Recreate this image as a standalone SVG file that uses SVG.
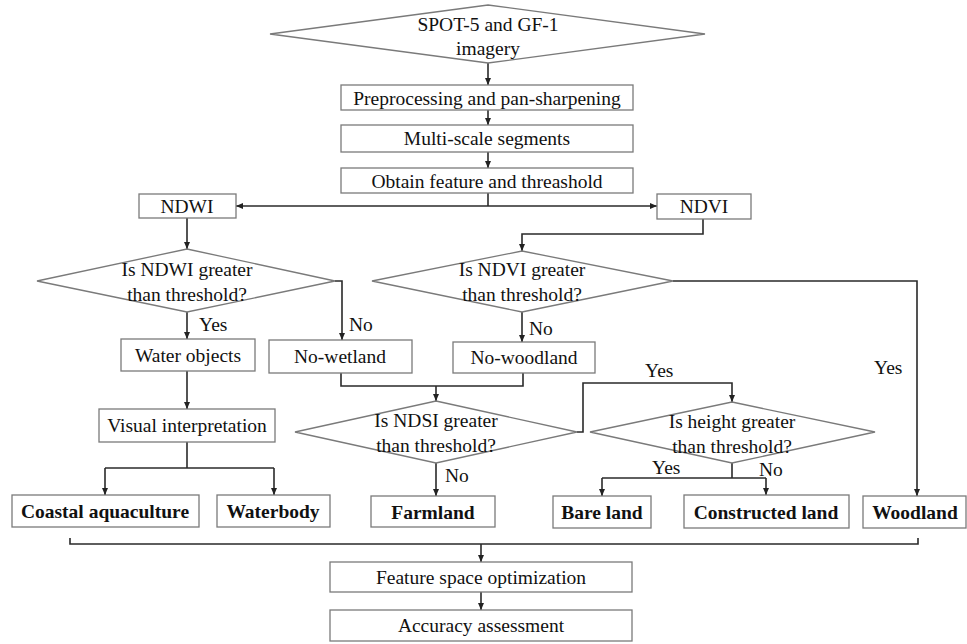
<svg xmlns="http://www.w3.org/2000/svg" width="967" height="644" viewBox="0 0 967 644">
<defs>
<style>
.box{fill:#fff;stroke:#7a7a7a;stroke-width:1.3}
.dia{fill:#fff;stroke:#7a7a7a;stroke-width:1.3}
text{font-family:'Liberation Serif','Times New Roman','DejaVu Serif',serif;font-size:19.5px;fill:#111}
.t{text-anchor:middle}
.b{font-weight:bold}
.c{fill:none;stroke:#2a2a2a;stroke-width:1.6}
</style>
<marker id="ah" markerWidth="8" markerHeight="8" refX="7" refY="4" orient="auto" markerUnits="userSpaceOnUse"><path d="M0,1 L7,4 L0,7 Z" fill="#222"/></marker>
</defs>
<rect width="967" height="644" fill="#fff"/>
<g id="connectors">
<path class="c" d="M488,63 V85" marker-end="url(#ah)"/>
<path class="c" d="M488,110 V125" marker-end="url(#ah)"/>
<path class="c" d="M488,152 V168" marker-end="url(#ah)"/>
<path class="c" d="M488,193 V206"/>
<path class="c" d="M488,206 H236" marker-end="url(#ah)"/>
<path class="c" d="M488,206 H657" marker-end="url(#ah)"/>
<path class="c" d="M187,218 V249" marker-end="url(#ah)"/>
<path class="c" d="M187,312 V339" marker-end="url(#ah)"/>
<path class="c" d="M335,281 H342 V340" marker-end="url(#ah)"/>
<path class="c" d="M703,219 V234 H522 V251" marker-end="url(#ah)"/>
<path class="c" d="M673,281 H917 V496" marker-end="url(#ah)"/>
<path class="c" d="M522,312 V342" marker-end="url(#ah)"/>
<path class="c" d="M341,373 V386 H523 V373"/>
<path class="c" d="M436,386 V401" marker-end="url(#ah)"/>
<path class="c" d="M187,371 V409" marker-end="url(#ah)"/>
<path class="c" d="M187,442 V468"/>
<path class="c" d="M105,468 H274"/>
<path class="c" d="M105,468 V495" marker-end="url(#ah)"/>
<path class="c" d="M274,468 V495" marker-end="url(#ah)"/>
<path class="c" d="M436,463 V496" marker-end="url(#ah)"/>
<path class="c" d="M577,432 H583 V383 H732 V402" marker-end="url(#ah)"/>
<path class="c" d="M732,463 V478"/>
<path class="c" d="M602,478 H766"/>
<path class="c" d="M602,478 V496" marker-end="url(#ah)"/>
<path class="c" d="M766,478 V495" marker-end="url(#ah)"/>
<path class="c" d="M70,538 V544 H918 V538"/>
<path class="c" d="M481,544 V562" marker-end="url(#ah)"/>
<path class="c" d="M481,592 V610" marker-end="url(#ah)"/>
<text x="199" y="331">Yes</text>
<text x="349" y="331">No</text>
<text x="529" y="335">No</text>
<text x="874" y="374">Yes</text>
<text x="645" y="377">Yes</text>
<text x="652" y="474">Yes</text>
<text x="759" y="476">No</text>
<text x="445" y="482">No</text>
</g>
<g id="n-input">
<polygon class="dia" points="488,5 705,34 488,63 270,34"/>
<text class="t" x="488" y="31">SPOT-5 and GF-1</text>
<text class="t" x="488" y="55">imagery</text>
</g>
<g id="n-preproc"><rect class="box" x="341" y="85" width="292" height="25"/><text class="t" x="487" y="105">Preprocessing and pan-sharpening</text></g>
<g id="n-segments"><rect class="box" x="341" y="125" width="292" height="27"/><text class="t" x="487" y="145">Multi-scale segments</text></g>
<g id="n-feature"><rect class="box" x="341" y="168" width="292" height="25"/><text class="t" x="487" y="188">Obtain feature and threashold</text></g>
<g id="n-ndwi"><rect class="box" x="139" y="194" width="97" height="24"/><text class="t" x="187" y="213">NDWI</text></g>
<g id="n-ndvi"><rect class="box" x="657" y="194" width="94" height="25"/><text class="t" x="704" y="213">NDVI</text></g>
<g id="n-ndwi-q">
<polygon class="dia" points="187,249 335,281 187,312 37,281"/>
<text class="t" x="187" y="276">Is NDWI greater</text>
<text class="t" x="187" y="301">than threshold?</text>
</g>
<g id="n-ndvi-q">
<polygon class="dia" points="522,251 673,281 522,312 372,281"/>
<text class="t" x="522" y="276">Is NDVI greater</text>
<text class="t" x="522" y="301">than threshold?</text>
</g>
<g id="n-water"><rect class="box" x="121" y="339" width="134" height="32"/><text class="t" x="188" y="362">Water objects</text></g>
<g id="n-nowetland"><rect class="box" x="269" y="340" width="143" height="33"/><text class="t" x="340" y="363">No-wetland</text></g>
<g id="n-nowoodland"><rect class="box" x="453" y="342" width="142" height="31"/><text class="t" x="524" y="364">No-woodland</text></g>
<g id="n-visual"><rect class="box" x="99" y="409" width="176" height="33"/><text class="t" x="187" y="432">Visual interpretation</text></g>
<g id="n-ndsi-q">
<polygon class="dia" points="436,401 577,432 436,463 295,432"/>
<text class="t" x="436" y="427">Is NDSI greater</text>
<text class="t" x="436" y="452">than threshold?</text>
</g>
<g id="n-height-q">
<polygon class="dia" points="732,402 875,432 732,463 590,432"/>
<text class="t" x="732" y="428">Is height greater</text>
<text class="t" x="732" y="453">than threshold?</text>
</g>
<g id="n-coastal"><rect class="box" x="12" y="495" width="187" height="32"/><text class="t b" x="105" y="518">Coastal aquaculture</text></g>
<g id="n-waterbody"><rect class="box" x="217" y="495" width="113" height="32"/><text class="t b" x="273" y="518">Waterbody</text></g>
<g id="n-farmland"><rect class="box" x="371" y="496" width="124" height="31"/><text class="t b" x="433" y="519">Farmland</text></g>
<g id="n-bare"><rect class="box" x="553" y="496" width="98" height="32"/><text class="t b" x="602" y="519">Bare land</text></g>
<g id="n-constructed"><rect class="box" x="684" y="495" width="165" height="33"/><text class="t b" x="766" y="519">Constructed land</text></g>
<g id="n-woodland"><rect class="box" x="863" y="496" width="103" height="32"/><text class="t b" x="915" y="519">Woodland</text></g>
<g id="n-optim"><rect class="box" x="330" y="562" width="302" height="30"/><text class="t" x="481" y="584">Feature space optimization</text></g>
<g id="n-accuracy"><rect class="box" x="330" y="610" width="302" height="31"/><text class="t" x="481" y="632">Accuracy assessment</text></g>
</svg>
